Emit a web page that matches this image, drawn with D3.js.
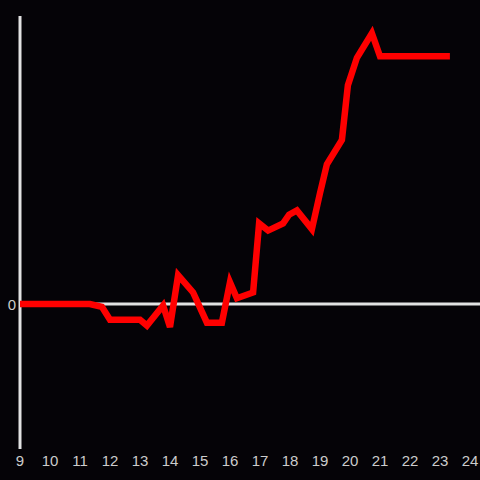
<!DOCTYPE html>
<html>
<head>
<meta charset="utf-8">
<script src="https://cdn.jsdelivr.net/npm/d3@7"></script>
<style>
  html, body { margin: 0; padding: 0; background: #050307; }
  svg { display: block; }
</style>
</head>
<body>
<div id="chart"></div>
<script>
// data
const hours = [9, 11.33, 11.73, 12.0, 13.0, 13.23, 13.77, 14.0, 14.27, 14.77, 15.23, 15.73,
  16.0, 16.23, 16.77, 16.97, 17.27, 17.77, 17.97, 18.23, 18.73, 19.0, 19.23, 19.73,
  19.93, 20.23, 20.73, 21.0, 23.33];
const values = [0, 0, -0.02, -0.11, -0.11, -0.15, -0.01, -0.16, 0.20, 0.08, -0.13, -0.13,
  0.15, 0.04, 0.08, 0.56, 0.51, 0.56, 0.62, 0.65, 0.52, 0.77, 0.97, 1.14,
  1.52, 1.71, 1.88, 1.72, 1.72];
const x_ticks = [9, 10, 11, 12, 13, 14, 15, 16, 17, 18, 19, 20, 21, 22, 23, 24];
const y_ticks = [0];

const width = 480, height = 480;

let svg = d3.select("#chart").append("svg")
  .attr("width", width)
  .attr("height", height);

svg.append("rect")
  .attr("width", width).attr("height", height)
  .attr("fill", "#050307");

let x = d3.scaleLinear().domain([9, 24]).range([20, 470]);
let y = d3.scaleLinear().domain([-1, 2]).range([448, 16]);

// zero line
svg.append("line")
  .attr("x1", x(9)).attr("x2", width)
  .attr("y1", y(0)).attr("y2", y(0))
  .attr("stroke", "#e2e2e2")
  .attr("stroke-width", 3);

// y axis line
svg.append("line")
  .attr("x1", x(9)).attr("x2", x(9))
  .attr("y1", 16).attr("y2", 449)
  .attr("stroke", "#e2e2e2")
  .attr("stroke-width", 3);

// tick labels
svg.selectAll(".xlab").data(x_ticks).enter()
  .append("text")
  .attr("class", "xlab")
  .attr("x", (d) => x(d))
  .attr("y", 466)
  .attr("text-anchor", "middle")
  .attr("font-family", "Liberation Sans, Arial, sans-serif")
  .attr("font-size", 15)
  .attr("fill", "#cccccc")
  .text((d) => d);

svg.selectAll(".ylab").data(y_ticks).enter()
  .append("text")
  .attr("class", "ylab")
  .attr("x", 16)
  .attr("y", (d) => y(d) + 1)
  .attr("dy", "0.35em")
  .attr("text-anchor", "end")
  .attr("font-family", "Liberation Sans, Arial, sans-serif")
  .attr("font-size", 15)
  .attr("fill", "#cccccc")
  .text((d) => d);

// the line
let line = d3.line()
  .x((d) => x(d[0]))
  .y((d) => y(d[1]));

svg.append("path")
  .datum(hours.map((h, i) => [h, values[i]]))
  .attr("d", line)
  .attr("fill", "none")
  .attr("stroke", "#ff0000")
  .attr("stroke-width", 6.5)
  .attr("stroke-linejoin", "miter");
</script>
</body>
</html>
